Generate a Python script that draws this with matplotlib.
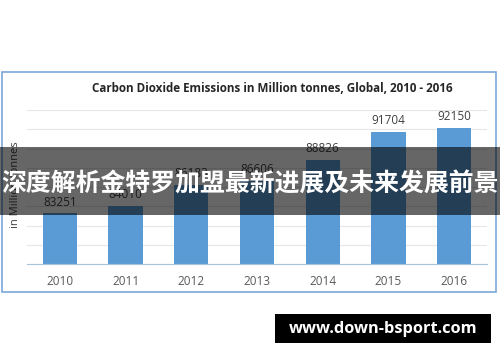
import matplotlib.pyplot as plt
from matplotlib.patches import Rectangle

years = ['2010', '2011', '2012', '2013', '2014', '2015', '2016']
emissions = [83251, 84010, 86183, 86606, 88826, 91704, 92150]

title = 'Carbon Dioxide Emissions in Million tonnes, Global, 2010 - 2016'
banner = '深度解析金特罗加盟最新进展及未来发展前景'
site = 'www.down-bsport.com'

plt.rcParams['font.family'] = ['Open Sans', 'DejaVu Sans']

fig = plt.figure(figsize=(5, 3.62), dpi=100)
fig.patch.set_facecolor('white')

# outer chart frame
fig.add_artist(Rectangle((2 / 500, 1 - 292 / 362), 494 / 500, 220 / 362,
                         transform=fig.transFigure, fill=False,
                         edgecolor='#7aa7d8', linewidth=1.2))

ax = fig.add_axes([27 / 500, 1 - 264 / 362, 460 / 500, 154 / 362])
x = range(len(years))
ax.bar(x, emissions, width=0.52, color='#5b9bd5', zorder=2)
for i, v in enumerate(emissions):
    ax.text(i, v + 500, str(v), ha='center', va='bottom', fontsize=8.5, color='#404040')

ax.set_ylim(78000, 94000)
ax.set_xlim(-0.5, len(years) - 0.5)
ax.set_yticks(range(78000, 94001, 2000))
ax.set_yticklabels([])
ax.tick_params(axis='y', length=0)
ax.tick_params(axis='x', length=0, pad=8, labelsize=8.5, labelcolor='#595959')
ax.set_xticks(list(x))
ax.set_xticklabels(years)
ax.grid(axis='y', color='#e6e6e6', linewidth=0.8, zorder=0)
for s in ['top', 'right', 'left']:
    ax.spines[s].set_visible(False)
ax.spines['bottom'].set_color('#a9c3dc')

fig.text(272 / 500, 1 - 88 / 362, title, ha='center', va='center', fontsize=8.4,
         fontweight='bold', color='#262626')
fig.text(16 / 500, 1 - 185 / 362, 'in Million tonnes', rotation=90, ha='center',
         va='center', fontsize=8, color='#404040')

# dark banner with headline
fig.add_artist(Rectangle((0, 1 - 215 / 362), 1, 68 / 362, transform=fig.transFigure,
                         facecolor='black', alpha=0.6, edgecolor='none', zorder=5))
fig.text(0.5, 1 - 185 / 362, banner, ha='center', va='center', fontsize=17.9,
         fontweight='bold', color='white', zorder=6,
         family=['Noto Sans CJK SC', 'DejaVu Sans'])

# site box bottom right
fig.add_artist(Rectangle((275 / 500, 1 - 343 / 362), 216 / 500, 29 / 362,
                         transform=fig.transFigure, facecolor='black',
                         edgecolor='none', zorder=5))
fig.text(383 / 500, 1 - 329 / 362, site, ha='center', va='center', fontsize=11.8,
         fontweight='bold', color='white', zorder=6)

fig.savefig('out.png', dpi=100)
